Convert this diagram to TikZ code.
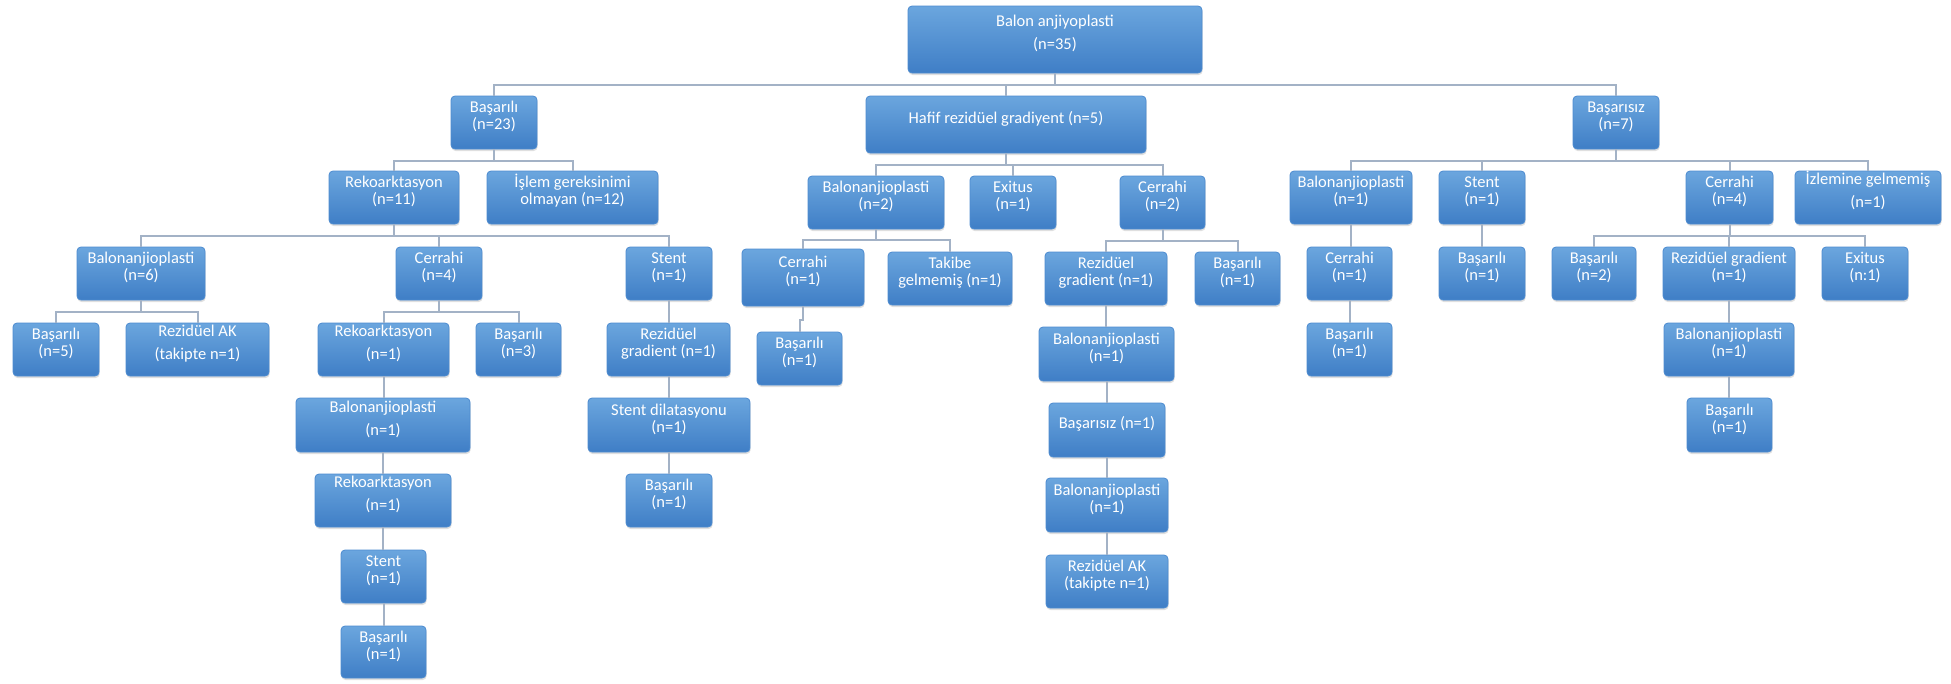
\documentclass[tikz,border=0pt]{standalone}
\usepackage{fontspec}
\setmainfont{Carlito}
\usetikzlibrary{fit,shadows}
\definecolor{boxtop}{HTML}{6BA6DE}
\definecolor{boxbot}{HTML}{3F7EC6}
\definecolor{boxline}{HTML}{4D8BD0}
\definecolor{connc}{HTML}{A3B2C6}
\tikzset{
 box/.style={rounded corners=4pt, top color=boxtop, bottom color=boxbot, draw=boxline, line width=0.8pt, inner sep=0pt, text=white, align=center, font=\fontsize{16.5}{17}\selectfont, drop shadow={opacity=0.25,shadow xshift=0.6pt,shadow yshift=-2pt}},
 loose/.style={font=\fontsize{16.5}{23}\selectfont},
 conn/.style={draw=connc, line width=2pt},
}
\newcommand\tbox[7][]{\node[box,#1,fit={(#2,#3) (#4,#5)}] (#6) {#7};}
\newcommand\elb[3]{\draw[conn] (#1.south) -- (#1.south |- 0,#3) -| (#2.north);}
\newcommand\vrt[2]{\draw[conn] (#1.south) -- (#1.south |- #2.north);}
\begin{document}
\begin{tikzpicture}[x=1pt,y=-1pt]
\fill[white] (0,0) rectangle (1951,683);
\useasboundingbox (0,0) rectangle (1951,683);
% level 0-1
\tbox[loose]{908}{6}{1202}{73}{root}{Balon anjiyoplasti\\(n=35)}
\tbox{451}{96}{537}{149}{bas23}{Başarılı\\(n=23)}
\tbox{866}{96}{1146}{153}{hafif}{Hafif rezidüel gradiyent (n=5)}
\tbox{1573}{96}{1659}{149}{basz7}{Başarısız\\(n=7)}
% Basarili branch
\tbox{329}{171}{459}{224}{rek11}{Rekoarktasyon\\(n=11)}
\tbox{487}{171}{658}{224}{islem}{İşlem gereksinimi\\olmayan (n=12)}
\tbox{77}{247}{205}{300}{bal6}{Balonanjioplasti\\(n=6)}
\tbox{396}{247}{482}{300}{cer4a}{Cerrahi\\(n=4)}
\tbox{626}{247}{712}{300}{stentA}{Stent\\(n=1)}
\tbox{13}{323}{99}{376}{bas5}{Başarılı\\(n=5)}
\tbox[loose]{126}{323}{269}{376}{rezAK1}{Rezidüel AK\\(takipte n=1)}
\tbox[loose]{318}{323}{449}{376}{rek1a}{Rekoarktasyon\\(n=1)}
\tbox{476}{323}{561}{376}{bas3}{Başarılı\\(n=3)}
\tbox{607}{323}{730}{376}{rezgrA}{Rezidüel\\gradient (n=1)}
\tbox[loose]{296}{398}{470}{452}{bal1a}{Balonanjioplasti\\(n=1)}
\tbox{588}{398}{750}{452}{stdil}{Stent dilatasyonu\\(n=1)}
\tbox[loose]{315}{474}{451}{527}{rek1b}{Rekoarktasyon\\(n=1)}
\tbox{626}{474}{712}{527}{bas1s}{Başarılı\\(n=1)}
\tbox{341}{550}{426}{603}{stent1b}{Stent\\(n=1)}
\tbox{341}{626}{426}{678}{bas1c}{Başarılı\\(n=1)}
% Hafif branch
\tbox{808}{176}{944}{229}{bal2}{Balonanjioplasti\\(n=2)}
\tbox{970}{176}{1056}{229}{exit1}{Exitus\\(n=1)}
\tbox{1120}{176}{1205}{229}{cer2}{Cerrahi\\(n=2)}
\tbox{742}{249}{864}{306}{cer1h}{Cerrahi\\(n=1)}
\tbox{888}{252}{1012}{305}{takibe}{Takibe\\gelmemiş (n=1)}
\tbox{1045}{252}{1167}{305}{rezgrH}{Rezidüel\\gradient (n=1)}
\tbox{1195}{252}{1280}{305}{bas1h}{Başarılı\\(n=1)}
\tbox{757}{332}{842}{385}{bas1hc}{Başarılı\\(n=1)}
\tbox{1039}{327}{1174}{381}{bal1h}{Balonanjioplasti\\(n=1)}
\tbox{1049}{403}{1165}{457}{basz1}{Başarısız (n=1)}
\tbox{1046}{478}{1168}{532}{bal1h2}{Balonanjioplasti\\(n=1)}
\tbox{1046}{555}{1168}{608}{rezAKh}{Rezidüel AK\\(takipte n=1)}
% Basarisiz branch
\tbox{1290}{171}{1412}{224}{bal1z}{Balonanjioplasti\\(n=1)}
\tbox{1439}{171}{1525}{224}{stentZ}{Stent\\(n=1)}
\tbox{1686}{171}{1773}{224}{cer4z}{Cerrahi\\(n=4)}
\tbox[loose]{1795}{171}{1941}{224}{izlem}{İzlemine gelmemiş\\(n=1)}
\tbox{1307}{247}{1392}{300}{cer1z}{Cerrahi\\(n=1)}
\tbox{1439}{247}{1525}{300}{bas1z}{Başarılı\\(n=1)}
\tbox{1552}{247}{1636}{300}{bas2}{Başarılı\\(n=2)}
\tbox{1663}{247}{1795}{300}{rezgrZ}{Rezidüel gradient\\(n=1)}
\tbox{1822}{247}{1908}{300}{exitZ}{Exitus\\(n:1)}
\tbox{1307}{323}{1392}{376}{bas1z2}{Başarılı\\(n=1)}
\tbox{1664}{323}{1794}{376}{bal1z2}{Balonanjioplasti\\(n=1)}
\tbox{1687}{398}{1772}{452}{bas1z3}{Başarılı\\(n=1)}
% connectors
\elb{root}{bas23}{85} \elb{root}{hafif}{85} \elb{root}{basz7}{85}
\elb{bas23}{rek11}{161} \elb{bas23}{islem}{161}
\elb{rek11}{bal6}{236} \elb{rek11}{cer4a}{236} \elb{rek11}{stentA}{236}
\elb{bal6}{bas5}{312} \elb{bal6}{rezAK1}{312}
\elb{cer4a}{rek1a}{312} \elb{cer4a}{bas3}{312}
\vrt{stentA}{rezgrA} \vrt{rezgrA}{stdil} \vrt{stdil}{bas1s}
\vrt{rek1a}{bal1a} \vrt{bal1a}{rek1b} \vrt{rek1b}{stent1b} \vrt{stent1b}{bas1c}
\elb{hafif}{bal2}{165} \elb{hafif}{exit1}{165} \elb{hafif}{cer2}{165}
\elb{bal2}{cer1h}{240} \elb{bal2}{takibe}{240}
\elb{cer2}{rezgrH}{241} \elb{cer2}{bas1h}{241}
\elb{cer1h}{bas1hc}{320}
\vrt{rezgrH}{bal1h} \vrt{bal1h}{basz1} \vrt{basz1}{bal1h2} \vrt{bal1h2}{rezAKh}
\elb{basz7}{bal1z}{161} \elb{basz7}{stentZ}{161} \elb{basz7}{cer4z}{161} \elb{basz7}{izlem}{161}
\vrt{bal1z}{cer1z} \vrt{cer1z}{bas1z2} \vrt{stentZ}{bas1z}
\elb{cer4z}{bas2}{236} \elb{cer4z}{rezgrZ}{236} \elb{cer4z}{exitZ}{236}
\vrt{rezgrZ}{bal1z2} \vrt{bal1z2}{bas1z3}
\end{tikzpicture}
\end{document}
